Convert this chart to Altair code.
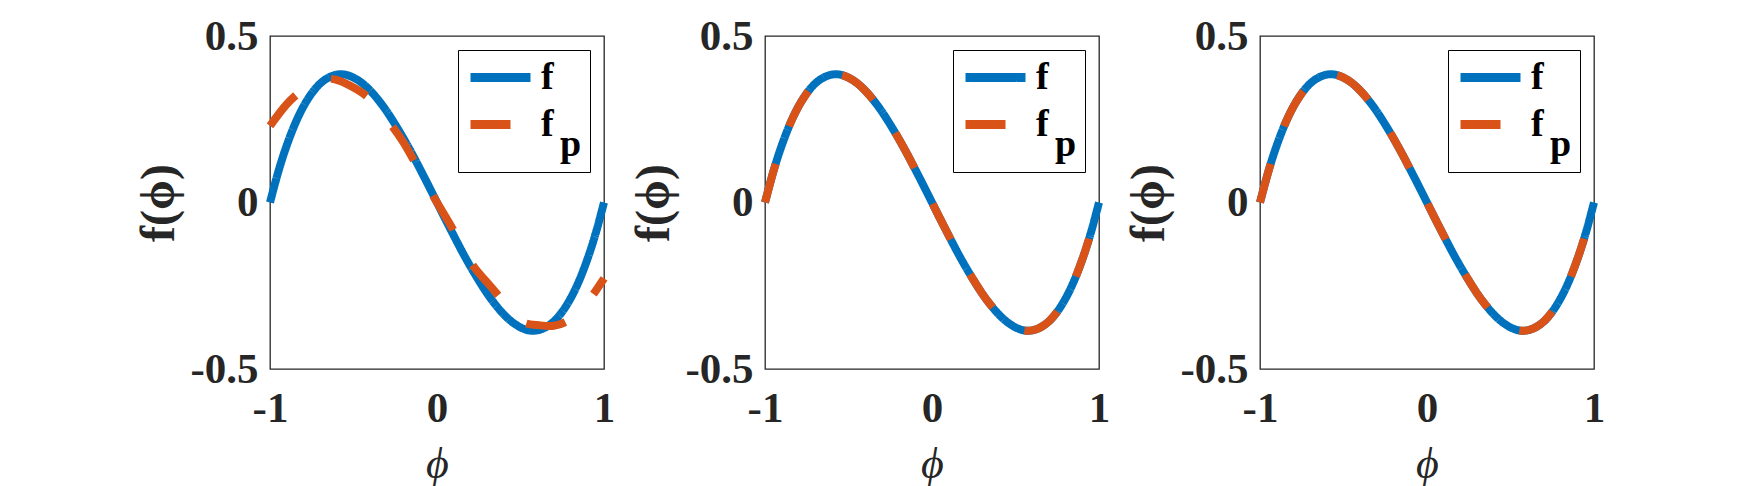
import altair as alt
import pandas as pd

# ---- data ----
phi_f = [-1.0, -0.95, -0.9, -0.85, -0.8, -0.75, -0.7, -0.65, -0.6, -0.55, -0.5,
         -0.45, -0.4, -0.35, -0.3, -0.25, -0.2, -0.15, -0.1, -0.05, 0.0,
         0.05, 0.1, 0.15, 0.2, 0.25, 0.3, 0.35, 0.4, 0.45, 0.5,
         0.55, 0.6, 0.65, 0.7, 0.75, 0.8, 0.85, 0.9, 0.95, 1.0]
f_vals = [0.0, 0.093, 0.171, 0.236, 0.288, 0.328, 0.357, 0.375, 0.384, 0.384, 0.375,
          0.359, 0.336, 0.307, 0.273, 0.234, 0.192, 0.147, 0.099, 0.050, 0.0,
          -0.050, -0.099, -0.147, -0.192, -0.234, -0.273, -0.307, -0.336, -0.359, -0.375,
          -0.384, -0.384, -0.375, -0.357, -0.328, -0.288, -0.236, -0.171, -0.093, 0.0]

# panel 1: approximation fp (dashed), visibly different
phi_p1 = [-1.0, -0.9, -0.8, -0.7, -0.6, -0.5, -0.4, -0.3, -0.2, -0.1, 0.0,
          0.1, 0.2, 0.3, 0.4, 0.5, 0.6, 0.7, 0.8, 0.9, 1.0]
fp1_vals = [0.23, 0.295, 0.34, 0.368, 0.368, 0.345, 0.31, 0.25, 0.18, 0.09, 0.0,
            -0.085, -0.178, -0.24, -0.30, -0.355, -0.368, -0.37, -0.35, -0.30, -0.228]

# panels 2 and 3: fp lies on top of f
fp2_vals = [0.0, 0.093, 0.171, 0.236, 0.288, 0.328, 0.357, 0.375, 0.384, 0.384, 0.375,
            0.359, 0.336, 0.307, 0.273, 0.234, 0.192, 0.147, 0.099, 0.050, 0.0,
            -0.050, -0.099, -0.147, -0.192, -0.234, -0.273, -0.307, -0.336, -0.359, -0.375,
            -0.384, -0.384, -0.375, -0.357, -0.328, -0.288, -0.236, -0.171, -0.093, 0.0]
fp3_vals = [0.0, 0.093, 0.171, 0.236, 0.288, 0.328, 0.357, 0.375, 0.384, 0.384, 0.375,
            0.359, 0.336, 0.307, 0.273, 0.234, 0.192, 0.147, 0.099, 0.050, 0.0,
            -0.050, -0.099, -0.147, -0.192, -0.234, -0.273, -0.307, -0.336, -0.359, -0.375,
            -0.384, -0.384, -0.375, -0.357, -0.328, -0.288, -0.236, -0.171, -0.093, 0.0]

series = ["f", "fp"]
colors = ["#0072BD", "#D95319"]
x_ticks = [-1, 0, 1]
y_ticks = [-0.5, 0, 0.5]

FONT = "Liberation Serif, Times New Roman, serif"


def make_df(phi_p, fp_vals):
    a = pd.DataFrame({"phi": phi_f, "value": f_vals, "series": "f"})
    b = pd.DataFrame({"phi": phi_p, "value": fp_vals, "series": "fp"})
    return pd.concat([a, b], ignore_index=True)


legend_cfg = dict(
    title=None,
    orient="top-right",
    offset=14,
    strokeColor="black",
    fillColor="white",
    padding=8,
    symbolType="M-1,0H3",
    symbolSize=900,
    symbolStrokeWidth=9,
    symbolOpacity=1,
    labelFont=FONT,
    labelFontWeight="bold",
    labelFontSize=38,
    labelColor="black",
    labelOffset=36,
    labelLimit=200,
    rowPadding=8,
    labelExpr="datum.label == 'fp' ? ['f', '\u200b\u00a0\u00a0p'] : 'f'",
)


def panel(df):
    return alt.Chart(df).mark_line(strokeWidth=8, interpolate="natural").encode(
        x=alt.X("phi:Q",
                scale=alt.Scale(domain=[-1, 1], nice=False, zero=False),
                axis=alt.Axis(values=x_ticks, title="\u03d5", labelPadding=18,
                              labelExpr="toString(datum.value)",
                              titleFontStyle="italic", titleFontWeight="normal",
                              titleFontSize=44, titlePadding=12)),
        y=alt.Y("value:Q",
                scale=alt.Scale(domain=[-0.5, 0.5], nice=False, zero=False),
                axis=alt.Axis(values=y_ticks, title="f(\u03d5)", labelPadding=12,
                              labelExpr="toString(datum.value)",
                              titleFontWeight="bold", titleFontSize=48, titlePadding=6)),
        color=alt.Color("series:N", scale=alt.Scale(domain=series, range=colors),
                        legend=alt.Legend(**legend_cfg)),
        strokeDash=alt.StrokeDash("series:N",
                                  scale=alt.Scale(domain=series, range=[[1, 0], [40, 40]]),
                                  legend=alt.Legend(**legend_cfg)),
    ).properties(width=334, height=333)


p1 = panel(make_df(phi_p1, fp1_vals))
p2 = panel(make_df(phi_f, fp2_vals))
p3 = panel(make_df(phi_f, fp3_vals))

chart = alt.hconcat(p1, p2, p3, spacing=161, bounds="flush").resolve_scale(
    color="independent", strokeDash="independent"
).resolve_legend(
    color="independent", strokeDash="independent"
).properties(
    padding={"left": 127, "top": 6, "right": 0, "bottom": 0},
    background="white",
).configure(
    style={"guide-label": {"lineHeight": 20}}
).configure_view(
    stroke="#262626", strokeWidth=1.3
).configure_axis(
    domain=False, ticks=False, grid=False,
    labelFont=FONT, labelFontWeight="bold", labelFontSize=43, labelColor="#262626",
    labelFlush=False, labelOverlap=False,
    titleFont=FONT, titleColor="#262626",
)

chart.save("out.html", embed_options={"renderer": "svg", "actions": False})
